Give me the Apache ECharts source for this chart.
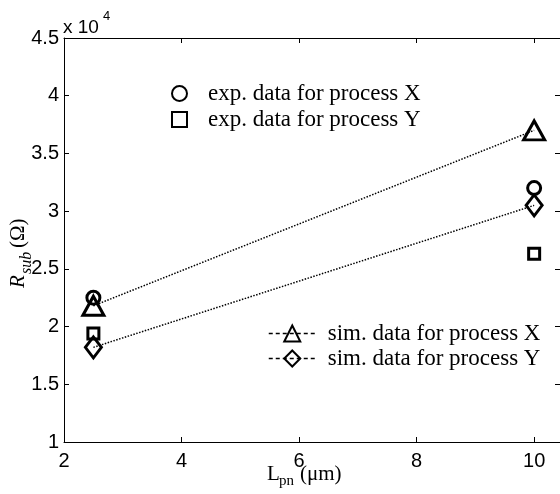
<!DOCTYPE html>
<html>
<head>
<meta charset="utf-8">
<script src="https://cdn.jsdelivr.net/npm/echarts@6/dist/echarts.min.js"></script>
<style>
  html, body { margin: 0; padding: 0; background: #fff; }
  #chart { width: 560px; height: 494px; }
</style>
</head>
<body>
<div id="chart"></div>
<script>
// Substrate resistance vs. pn-junction length, values in units of 1e4 ohm
const lengths = [2.5, 10];
const expProcessX = [2.25, 3.2];
const expProcessY = [1.94, 2.63];
const simProcessX = [2.18, 3.7];
const simProcessY = [1.82, 3.05];

const seriesNames = [
  'exp. data for process X',
  'exp. data for process Y',
  'sim. data for process X',
  'sim. data for process Y'
];

const xTicks = [2, 4, 6, 8, 10];
const yTicks = [1, 1.5, 2, 2.5, 3, 3.5, 4, 4.5];

const SANS = '"Liberation Sans", Arial, sans-serif';
const SERIF = '"Liberation Serif", "Times New Roman", serif';

const pairs = ys => lengths.map((x, i) => [x, ys[i]]);

const openMarker = {
  color: 'rgba(0,0,0,0)',
  borderColor: '#000',
  borderWidth: 3,
  opacity: 1
};

const xRange = { min: xTicks[0], max: 10.44, interval: xTicks[1] - xTicks[0] };
const yRange = { min: yTicks[0], max: yTicks[yTicks.length - 1], interval: yTicks[1] - yTicks[0] };

const tickStyle = { show: true, inside: true, length: 5, lineStyle: { color: '#000', width: 1 } };
const lineStyleAxis = { show: true, lineStyle: { color: '#000', width: 1 } };

const chart = echarts.init(document.getElementById('chart'), null, { renderer: 'canvas' });

chart.setOption({
  backgroundColor: '#fff',
  animation: false,
  grid: { left: 64, top: 38, width: 497, height: 404, containLabel: false },
  xAxis: [
    {
      type: 'value', position: 'bottom', ...xRange,
      axisLine: lineStyleAxis, axisTick: tickStyle, splitLine: { show: false },
      axisLabel: {
        color: '#000', fontFamily: SANS, fontSize: 20, margin: 9,
        showMaxLabel: false,
        formatter: v => (xTicks.includes(v) ? String(v) : '')
      }
    },
    {
      type: 'value', position: 'top', ...xRange,
      axisLine: lineStyleAxis, axisTick: tickStyle, splitLine: { show: false },
      axisLabel: { show: false }
    }
  ],
  yAxis: [
    {
      type: 'value', position: 'left', ...yRange,
      axisLine: lineStyleAxis, axisTick: tickStyle, splitLine: { show: false },
      axisLabel: {
        color: '#000', fontFamily: SANS, fontSize: 20, margin: 5,
        formatter: v => String(v)
      }
    },
    {
      type: 'value', position: 'right', ...yRange,
      axisLine: lineStyleAxis, axisTick: tickStyle, splitLine: { show: false },
      axisLabel: { show: false }
    }
  ],
  legend: [
    {
      data: [seriesNames[0], seriesNames[1]],
      orient: 'vertical', left: 166, top: 77,
      itemWidth: 15, itemHeight: 15, itemGap: 3,
      textStyle: { color: '#000', fontFamily: SERIF, fontSize: 23, lineHeight: 20, padding: [0, 0, 0, 16] },
      selectedMode: false
    },
    {
      data: [seriesNames[2], seriesNames[3]],
      orient: 'vertical', left: 263, top: 317,
      itemWidth: 47, itemHeight: 20, itemGap: 2,
      lineStyle: { type: [4, 3], width: 1.5 },
      textStyle: { color: '#000', fontFamily: SERIF, fontSize: 23, lineHeight: 20, padding: [0, 0, 0, 7] },
      selectedMode: false
    }
  ],
  series: [
    {
      name: seriesNames[2], type: 'line', data: pairs(simProcessX),
      symbol: 'triangle', symbolSize: [21, 19], showSymbol: true,
      lineStyle: { color: '#000', width: 1.5, type: 'dotted' },
      itemStyle: openMarker
    },
    {
      name: seriesNames[3], type: 'line', data: pairs(simProcessY),
      symbol: 'diamond', symbolSize: [16, 21], showSymbol: true,
      lineStyle: { color: '#000', width: 1.5, type: 'dotted' },
      itemStyle: openMarker
    },
    {
      name: seriesNames[0], type: 'scatter', data: pairs(expProcessX),
      symbol: 'circle', symbolSize: 13, itemStyle: openMarker
    },
    {
      name: seriesNames[1], type: 'scatter', data: pairs(expProcessY),
      symbol: 'rect', symbolSize: 11, itemStyle: openMarker
    }
  ],
  graphic: [
    // axis multiplier
    { type: 'text', x: 63, y: 28, style: { text: 'x 10', font: '19px ' + SANS, fill: '#000', align: 'left', verticalAlign: 'middle' } },
    { type: 'text', x: 103, y: 16, style: { text: '4', font: '13px ' + SANS, fill: '#000', align: 'left', verticalAlign: 'middle' } },
    // x axis title
    { type: 'text', x: 267, y: 474, style: { text: 'L', font: '21px ' + SERIF, fill: '#000', align: 'left', verticalAlign: 'middle' } },
    { type: 'text', x: 279, y: 481, style: { text: 'pn', font: '15px ' + SERIF, fill: '#000', align: 'left', verticalAlign: 'middle' } },
    { type: 'text', x: 300, y: 474, style: { text: '(\u03bcm)', font: '21px ' + SERIF, fill: '#000', align: 'left', verticalAlign: 'middle' } },
    // y axis title, rotated to read upward
    {
      type: 'group', x: 18, y: 288, rotation: Math.PI / 2,
      children: [
        { type: 'text', x: 0, y: 0, style: { text: 'R', font: 'italic 21px ' + SERIF, fill: '#000', align: 'left', verticalAlign: 'middle' } },
        { type: 'text', x: 14, y: 9, style: { text: 'sub', font: 'italic 16px ' + SERIF, fill: '#000', align: 'left', verticalAlign: 'middle' } },
        { type: 'text', x: 40, y: 0, style: { text: '(\u03a9)', font: '21px ' + SERIF, fill: '#000', align: 'left', verticalAlign: 'middle' } }
      ]
    }
  ]
});
</script>
</body>
</html>
